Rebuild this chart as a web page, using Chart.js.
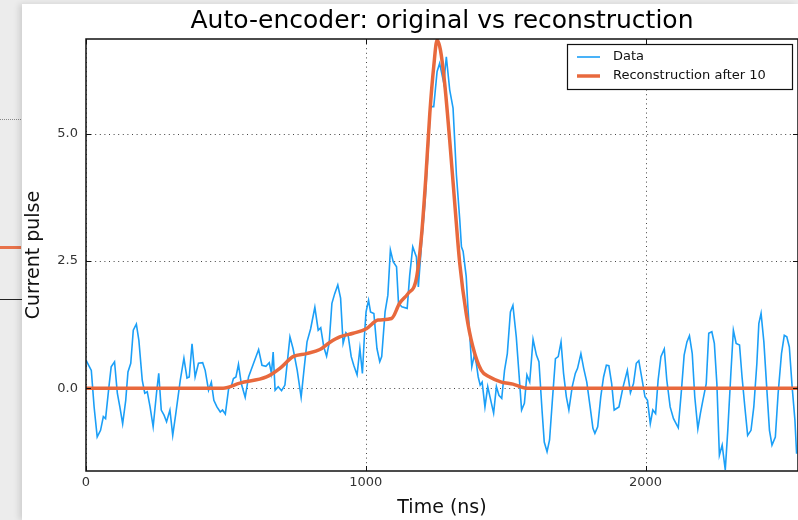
<!DOCTYPE html>
<html>
<head>
<meta charset="utf-8">
<script src="https://cdn.jsdelivr.net/npm/chart.js@4.4.1/dist/chart.umd.min.js"></script>
<style>
  html, body { margin: 0; padding: 0; }
  body { width: 798px; height: 520px; background: #ececec; position: relative; overflow: hidden; }
  .card { position: absolute; left: 22px; top: 4px; right: 0; bottom: 0; background: #fff; box-shadow: -3px 0 6px rgba(0,0,0,0.12); }
  .frag { position: absolute; left: 0; width: 21px; }
  #wrap { position: absolute; left: 0; top: 0; width: 798px; height: 520px; }
</style>
</head>
<body>
<!-- edge of the neighbouring figure peeking out on the left -->
<div class="frag" style="top:119px;height:0;border-top:1px dotted #888;"></div>
<div class="frag" style="top:246px;height:3px;background:#e8724a;"></div>
<div class="frag" style="top:299px;height:1px;background:#222;width:22px;"></div>
<div class="card"></div>
<div id="wrap"><canvas id="chart" width="798" height="520"></canvas></div>
<script>
const chartTitle = "Auto-encoder: original vs reconstruction";
const xTitle = "Time (ns)";
const yTitle = "Current pulse";
const xTicks = [0, 1000, 2000];
const yTicks = [0, 2.5, 5];
const xRange = [0, 2545];
const yRange = [-1.63, 6.87];

// [time ns, current]
const pulseData = [
  [0,0.55],[19,0.35],[29,-0.37],[40,-0.96],[52,-0.83],[62,-0.56],[70,-0.6],[82,0.03],[90,0.42],[102,0.52],
  [112,-0.1],[121,-0.37],[131,-0.7],[142,-0.24],[150,0.32],[160,0.49],[169,1.14],[180,1.26],[189,0.94],[201,0.16],
  [210,-0.1],[219,-0.07],[229,-0.37],[240,-0.76],[252,-0.1],[260,0.29],[269,-0.43],[279,-0.53],[288,-0.66],[300,-0.43],
  [310,-0.93],[321,-0.5],[337,0.16],[350,0.59],[361,0.2],[369,0.22],[379,0.87],[390,0.22],[402,0.49],[417,0.5],
  [426,0.35],[438,-0.04],[448,0.12],[457,-0.24],[468,-0.37],[480,-0.47],[488,-0.43],[498,-0.51],[510,0.0],[519,0.03],
  [527,0.19],[536,0.22],[545,0.47],[555,0.09],[569,-0.18],[581,0.22],[599,0.49],[617,0.76],[629,0.45],[643,0.43],
  [655,0.5],[663,0.29],[669,0.71],[676,-0.04],[687,0.03],[699,-0.05],[711,0.06],[729,1.01],[740,0.78],[755,0.35],
  [769,-0.18],[779,0.35],[790,0.91],[803,1.17],[818,1.59],[830,1.14],[839,1.19],[850,0.81],[860,0.63],[869,0.88],
  [879,1.67],[889,1.86],[900,2.03],[910,1.77],[919,0.88],[929,1.09],[937,1.04],[948,0.62],[957,0.45],[969,0.26],
  [979,0.78],[988,0.29],[995,1.01],[1001,1.5],[1010,1.73],[1017,1.5],[1029,1.47],[1040,0.78],[1050,0.52],[1057,0.62],
  [1069,1.5],[1079,1.83],[1088,2.72],[1098,2.49],[1110,2.39],[1117,1.67],[1129,1.6],[1148,1.57],[1157,2.22],[1168,2.78],
  [1181,2.58],[1188,1.99],[1200,2.88],[1212,3.67],[1224,4.78],[1231,5.54],[1243,5.54],[1255,6.23],[1264,6.39],[1279,6.0],
  [1288,6.52],[1300,5.87],[1312,5.51],[1324,4.2],[1336,3.31],[1342,2.78],[1348,2.69],[1359,2.2],[1365,1.6],[1372,1.01],
  [1379,0.42],[1388,0.65],[1395,0.49],[1402,0.22],[1409,0.06],[1416,0.12],[1426,-0.37],[1436,0.03],[1444,-0.17],[1457,-0.49],
  [1467,0.03],[1476,-0.14],[1486,-0.2],[1496,0.35],[1506,0.68],[1517,1.5],[1526,1.63],[1538,1.01],[1548,0.26],[1557,-0.43],
  [1567,-0.3],[1576,0.26],[1586,0.12],[1598,0.96],[1610,0.65],[1619,0.52],[1630,-0.43],[1638,-1.06],[1648,-1.25],[1657,-1.02],
  [1667,-0.24],[1678,0.58],[1688,0.62],[1698,0.91],[1707,0.29],[1717,-0.17],[1726,-0.43],[1738,0.03],[1749,0.29],[1757,0.39],
  [1769,0.68],[1779,0.39],[1790,0.12],[1802,-0.37],[1812,-0.79],[1819,-0.89],[1829,-0.76],[1840,-0.17],[1850,0.22],[1860,0.45],
  [1869,0.44],[1879,0.09],[1888,-0.43],[1905,-0.37],[1920,0.03],[1935,0.35],[1946,-0.09],[1957,0.09],[1967,0.49],[1976,0.54],
  [1988,0.16],[1998,-0.17],[2007,-0.24],[2017,-0.7],[2026,-0.43],[2036,-0.5],[2045,0.16],[2055,0.62],[2067,0.77],[2076,0.16],
  [2088,-0.37],[2100,-0.6],[2117,-0.78],[2129,0.0],[2138,0.65],[2148,0.91],[2157,1.03],[2167,0.68],[2176,-0.17],[2187,-0.8],
  [2196,-0.5],[2205,-0.24],[2217,0.09],[2226,1.08],[2237,1.11],[2246,0.88],[2255,0.09],[2264,-1.32],[2274,-1.12],[2285,-1.61],
  [2294,-0.83],[2305,0.29],[2314,1.14],[2324,0.88],[2336,0.85],[2345,0.22],[2355,-0.37],[2365,-0.93],[2377,-0.83],[2387,-0.37],
  [2398,0.49],[2405,1.27],[2413,1.47],[2423,0.91],[2433,0.03],[2443,-0.83],[2452,-1.12],[2464,-0.96],[2474,-0.1],[2486,0.68],
  [2496,1.04],[2505,1.01],[2514,0.81],[2524,0.03],[2534,-0.63],[2540,-1.29]
];

// [time ns, current] of the smooth reconstruction
const reconData = [
  [0,0],[490,0],[550,0.1],[645,0.22],[693,0.39],[740,0.62],[788,0.68],[836,0.76],[871,0.9],[907,1.01],
  [955,1.08],[1002,1.17],[1044,1.34],[1092,1.37],[1121,1.67],[1151,1.86],[1181,2.16],[1199,2.98],[1214,4.09],[1229,5.41],
  [1243,6.33],[1255,6.85],[1267,6.65],[1282,6.0],[1300,4.88],[1318,3.64],[1336,2.45],[1359,1.47],[1383,0.81],[1413,0.35],
  [1443,0.22],[1485,0.12],[1526,0.08],[1574,0],[2545,0]
];

const FONT = '"DejaVu Sans", sans-serif';

const frame = {
  id: 'frame',
  beforeDatasetsDraw(chart) {
    const { ctx, chartArea: a, scales: { x, y } } = chart;
    ctx.save();
    ctx.strokeStyle = '#444';
    ctx.lineWidth = 1;
    ctx.setLineDash([1, 3.6]);
    ctx.beginPath();
    xTicks.forEach(v => {
      const px = Math.round(x.getPixelForValue(v)) + 0.5;
      ctx.moveTo(px, a.top); ctx.lineTo(px, a.bottom);
    });
    yTicks.forEach(v => {
      const py = Math.round(y.getPixelForValue(v)) + 0.5;
      ctx.moveTo(a.left, py); ctx.lineTo(a.right, py);
    });
    ctx.stroke();
    ctx.restore();
  },
  afterDraw(chart) {
    const { ctx, chartArea: a, scales: { x, y } } = chart;
    ctx.save();
    ctx.setLineDash([]);
    ctx.strokeStyle = '#111';
    ctx.lineWidth = 1.5;
    ctx.strokeRect(a.left, a.top, a.right - a.left, a.bottom - a.top);

    // ticks point inwards on all four sides
    ctx.lineWidth = 1;
    ctx.beginPath();
    xTicks.forEach(v => {
      const px = Math.round(x.getPixelForValue(v)) + 0.5;
      ctx.moveTo(px, a.bottom); ctx.lineTo(px, a.bottom - 5);
      ctx.moveTo(px, a.top); ctx.lineTo(px, a.top + 5);
    });
    yTicks.forEach(v => {
      const py = Math.round(y.getPixelForValue(v)) + 0.5;
      ctx.moveTo(a.left, py); ctx.lineTo(a.left + 5, py);
      ctx.moveTo(a.right, py); ctx.lineTo(a.right - 5, py);
    });
    ctx.stroke();

    ctx.fillStyle = '#000';
    ctx.font = '25px ' + FONT;
    ctx.textAlign = 'center';
    ctx.textBaseline = 'alphabetic';
    ctx.fillText(chartTitle, (a.left + a.right) / 2, 28);

    // legend box
    const lx = 567.5, ly = 44.5, lw = 225, lh = 45;
    ctx.fillStyle = '#fff';
    ctx.fillRect(lx, ly, lw, lh);
    ctx.strokeStyle = '#111';
    ctx.lineWidth = 1.2;
    ctx.strokeRect(lx, ly, lw, lh);
    ctx.font = '13px ' + FONT;
    ctx.textAlign = 'left';
    ctx.textBaseline = 'middle';
    chart.data.datasets.forEach((ds, i) => {
      const rowY = 57 + i * 19;
      ctx.strokeStyle = ds.borderColor;
      ctx.lineWidth = ds.borderWidth;
      ctx.beginPath();
      ctx.moveTo(577, rowY); ctx.lineTo(600, rowY);
      ctx.stroke();
      ctx.fillStyle = '#111';
      ctx.fillText(ds.label, 613, rowY);
    });
    ctx.restore();
  }
};

new Chart(document.getElementById('chart'), {
  type: 'line',
  data: {
    datasets: [
      {
        label: 'Data',
        data: pulseData.map(p => ({ x: p[0], y: p[1] })),
        borderColor: '#1b9ff7',
        borderWidth: 1.6,
        pointRadius: 0,
        tension: 0,
        order: 2
      },
      {
        label: 'Reconstruction after 10',
        data: reconData.map(p => ({ x: p[0], y: p[1] })),
        borderColor: '#e8693d',
        borderWidth: 3.5,
        pointRadius: 0,
        tension: 0.3,
        cubicInterpolationMode: 'monotone',
        order: 1
      }
    ]
  },
  options: {
    responsive: false,
    animation: false,
    devicePixelRatio: 1,
    layout: { padding: { top: 39, right: 0, bottom: 0, left: 0 } },
    plugins: {
      legend: { display: false },
      title: { display: false },
      tooltip: { enabled: false }
    },
    scales: {
      x: {
        type: 'linear',
        min: xRange[0],
        max: xRange[1],
        afterBuildTicks: s => { s.ticks = xTicks.map(v => ({ value: v })); },
        afterFit: s => { s.height = 49; },
        grid: { display: false, drawTicks: false },
        border: { display: false },
        ticks: {
          padding: 4,
          color: '#333',
          font: { family: FONT, size: 13 },
          maxRotation: 0,
          callback: v => String(v)
        },
        title: {
          display: true,
          text: xTitle,
          color: '#111',
          font: { family: FONT, size: 19 },
          padding: { top: 0, bottom: 1 }
        }
      },
      y: {
        type: 'linear',
        min: yRange[0],
        max: yRange[1],
        afterBuildTicks: s => { s.ticks = yTicks.map(v => ({ value: v })); },
        afterFit: s => { s.width = 86; },
        grid: { display: false, drawTicks: false },
        border: { display: false },
        ticks: {
          padding: 8,
          color: '#333',
          font: { family: FONT, size: 13 },
          callback: v => v.toFixed(1)
        },
        title: {
          display: true,
          text: yTitle,
          color: '#111',
          font: { family: FONT, size: 19 },
          padding: { top: 23, bottom: 0 }
        }
      }
    }
  },
  plugins: [frame]
});
</script>
</body>
</html>
